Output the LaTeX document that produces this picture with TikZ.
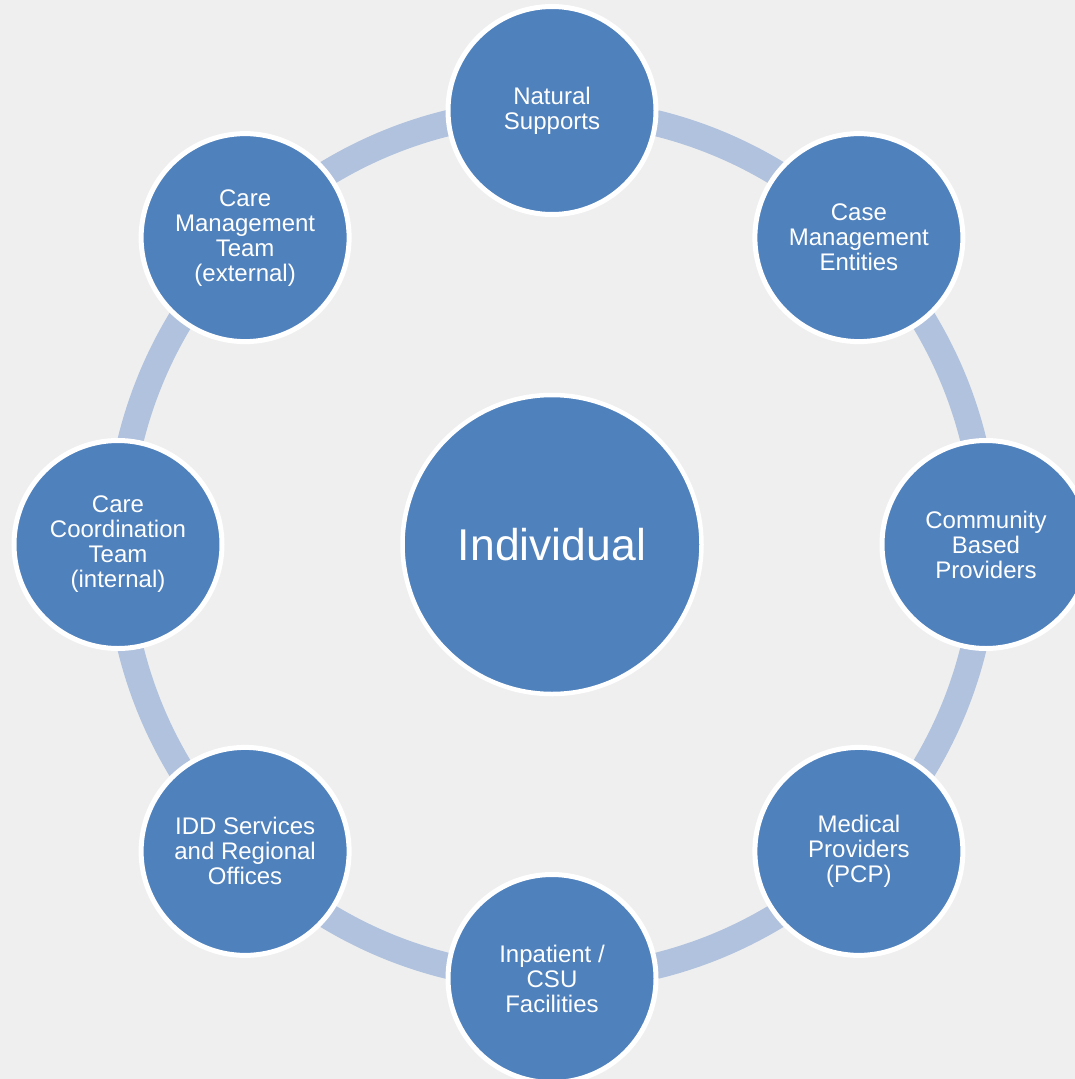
\documentclass[tikz,border=0pt]{standalone}
\usepackage{fontspec}
\setmainfont{Liberation Sans}
\usetikzlibrary{calc}
\definecolor{bgc}{HTML}{EFEFEF}
\definecolor{fillc}{HTML}{4F81BD}
\definecolor{ringc}{HTML}{B0C2DE}
\tikzset{
  outer/.style={circle, fill=fillc, draw=white, line width=5pt, minimum size=208pt, inner sep=0pt,
    text=white, align=center, font=\fontsize{24}{25}\selectfont},
  hub/.style={circle, fill=fillc, draw=white, line width=4.5pt, minimum size=299pt, inner sep=0pt,
    text=white, align=center, font=\fontsize{44.5}{50}\selectfont},
  ringline/.style={draw=ringc, line width=26pt}
}
\begin{document}
\begin{tikzpicture}[x=1pt,y=-1pt]
\clip (0,0) rectangle (1075,1079);
\fill[bgc] (0,0) rectangle (1075,1079);
\coordinate (c) at (552,544.5);
\draw[ringline] (c) circle[radius=434pt];
\node[hub] (ind) at (c) {Individual};
\node[outer] (ns)  at ($(c)+(-90:434)$)  {Natural\\Supports};
\node[outer] (cme) at ($(c)+(-45:434)$)  {Case\\Management\\Entities};
\node[outer] (cbp) at ($(c)+(0:434)$)   {Community\\Based\\Providers};
\node[outer] (mp)  at ($(c)+(45:434)$) {Medical\\Providers\\(PCP)};
\node[outer] (ip)  at ($(c)+(90:434)$) {Inpatient /\\CSU\\Facilities};
\node[outer] (idd) at ($(c)+(135:434)$) {IDD Services\\and Regional\\Offices};
\node[outer] (cct) at ($(c)+(180:434)$) {Care\\Coordination\\Team\\(internal)};
\node[outer] (cmt) at ($(c)+(-135:434)$) {Care\\Management\\Team\\(external)};
\end{tikzpicture}
\end{document}
